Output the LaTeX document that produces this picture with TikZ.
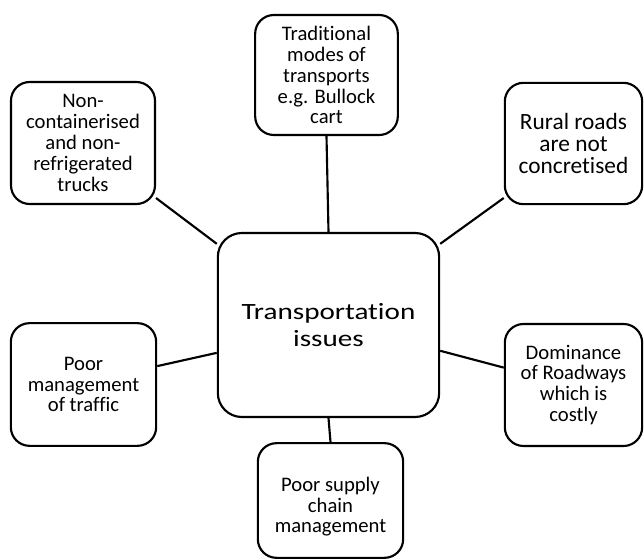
\documentclass[tikz,border=0pt]{standalone}
\usepackage{fontspec}
\setmainfont{Carlito}[Ligatures=NoCommon]
\newfontfamily\widefont{Carlito}[FakeStretch=1.25,Ligatures=NoCommon]

\begin{document}
\begin{tikzpicture}[
    x=0.75pt, y=-0.75pt,
    every path/.style={line width=1.6pt},
    issue/.style={draw, rounded corners=14pt, inner sep=0pt, align=center,
      font=\fontsize{15.5}{15.7}\selectfont},
    hub/.style={draw, rounded corners=18pt, inner sep=0pt, align=center,
      minimum width=166pt, minimum height=138pt,
      font=\widefont\fontsize{17.5}{20}\selectfont}
    ]
    \useasboundingbox (0,0) rectangle (644,560);
    
    % nodes
    \node[hub] (hub) at (328.5,325) {Transportation\\issues};
    
    \node[issue,minimum width=108pt,minimum height=91.5pt] (trucks) at (83,143)
      {Non-\\containerised\\and non-\\refrigerated\\trucks};
    \node[issue,minimum width=107pt,minimum height=90pt] (modes) at (326.5,75)
      {Traditional\\modes of\\transports\\e.g. Bullock\\cart};
    \node[issue,minimum width=103pt,minimum height=91pt,
      font=\fontsize{17.5}{16.5}\selectfont] (roads) at (573.5,143.5)
      {Rural roads\\are not\\concretised};
    \node[issue,minimum width=109pt,minimum height=92pt] (traffic) at (83.5,384.5)
      {Poor\\management\\of traffic};
    \node[issue,minimum width=103pt,minimum height=91.5pt] (roadways) at (573.5,385)
      {Dominance\\of Roadways\\which is\\costly};
    \node[issue,minimum width=109pt,minimum height=86pt] (supply) at (330.5,500.5)
      {\rule{0pt}{20pt}Poor supply\\chain\\management};
    
    % edges
    \draw (trucks.-37) -- (hub.144);
    \draw (modes.south) -- (hub.north);
    \draw (roads.218) -- (hub.36);
    \draw (traffic.14) -- (hub.194);
    \draw (roadways.166) -- (hub.-13);
    \draw (supply.north) -- (hub.south);
    
\end{tikzpicture}
\end{document}
